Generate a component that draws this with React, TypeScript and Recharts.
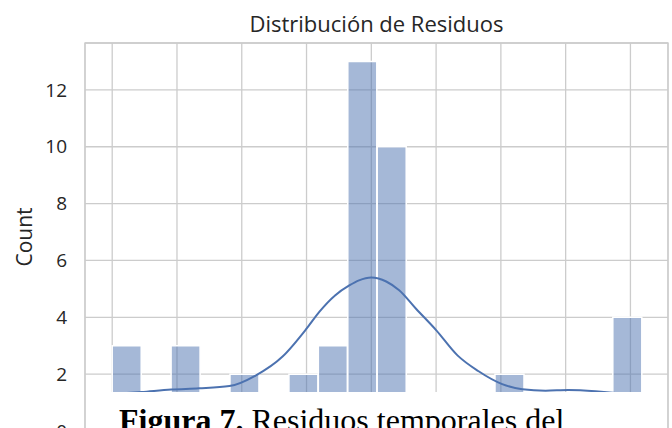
import {
  Bar,
  CartesianGrid,
  ComposedChart,
  Label,
  Line,
  ReferenceArea,
  XAxis,
  YAxis,
} from "recharts";

// histogram bins (centres) and counts
const BIN_CENTERS = [
  -3.773, -3.318, -2.864, -2.409, -1.955, -1.5, -1.045, -0.591, -0.136,
  0.318, 0.773, 1.227, 1.682, 2.136, 2.591, 3.045, 3.5, 3.955,
];
const COUNTS = [3, 0, 3, 0, 2, 0, 2, 3, 13, 10, 0, 0, 0, 2, 0, 0, 0, 4];

// kde curve
const KDE_X = [
  -4.0, -3.55, -3.09, -2.66, -2.19, -1.78, -1.37, -1.0, -0.8, -0.56, -0.34,
  -0.19, 0.0, 0.23, 0.43, 0.69, 1.0, 1.33, 1.65, 2.02, 2.33, 2.69, 3.04, 3.46,
  3.81, 4.18,
];
const KDE_Y = [
  1.3, 1.37, 1.46, 1.5, 1.58, 1.96, 2.62, 3.6, 4.2, 4.77, 5.12, 5.3, 5.4, 5.26,
  4.95, 4.3, 3.55, 2.66, 2.11, 1.65, 1.47, 1.42, 1.44, 1.4, 1.33, 1.22,
];

const X_TICKS = [-4, -3, -2, -1, 0, 1, 2, 3, 4];
const Y_TICKS = [0, 2, 4, 6, 8, 10, 12];
const X_DOMAIN = [-4.42, 4.58];
const Y_DOMAIN = [0, 13.65];

const bins = BIN_CENTERS.map((x, i) => ({ x, count: COUNTS[i] }));
const kde = KDE_X.map((x, i) => ({ x, density: KDE_Y[i] }));

const BLUE = "#4c72b0";
const GRID = "#cccccc";
const TEXT = "#262626";

// x tick labels sit below the caption box, so they are not drawn
const NoTick = () => <g />;

export default function App() {
  return (
    <div
      style={{
        position: "fixed",
        left: 0,
        top: 0,
        width: 672,
        height: 428,
        overflow: "hidden",
        background: "#ffffff",
        fontFamily: "'Open Sans', sans-serif",
      }}
    >
      <div
        style={{
          position: "absolute",
          left: 85,
          width: 583,
          top: 12,
          textAlign: "center",
          fontSize: 22,
          lineHeight: "22px",
          color: TEXT,
        }}
      >
        Distribución de Residuos
      </div>
      <div style={{ position: "absolute", left: 0, top: 0 }}>
        <ComposedChart
          width={672}
          height={480}
          data={bins}
          margin={{ top: 43, right: 4, bottom: 19, left: 0 }}
          barCategoryGap={0}
          barGap={0}
        >
          <CartesianGrid stroke={GRID} strokeWidth={1.3} />
          <ReferenceArea
            x1={X_DOMAIN[0]}
            x2={X_DOMAIN[1]}
            y1={Y_DOMAIN[0]}
            y2={Y_DOMAIN[1]}
            fill="none"
            stroke={GRID}
            strokeWidth={1.3}
            fillOpacity={0}
          />
          <XAxis
            dataKey="x"
            type="number"
            domain={X_DOMAIN}
            ticks={X_TICKS}
            allowDataOverflow
            height={30}
            axisLine={false}
            tickLine={false}
            tick={NoTick}
          />
          <XAxis
            xAxisId="kde"
            dataKey="x"
            type="number"
            domain={X_DOMAIN}
            allowDataOverflow
            hide
          />
          <YAxis
            type="number"
            domain={Y_DOMAIN}
            ticks={Y_TICKS}
            width={85}
            axisLine={false}
            tickLine={false}
            tickSize={0}
            tickMargin={18}
            tick={{ fill: TEXT, fontSize: 19 }}
          >
            <Label
              value="Count"
              angle={-90}
              position="insideLeft"
              offset={25}
              style={{ textAnchor: "middle", fill: TEXT, fontSize: 21 }}
            />
          </YAxis>
          <Bar
            dataKey="count"
            fill={BLUE}
            fillOpacity={0.5}
            stroke="#ffffff"
            strokeWidth={1.5}
            isAnimationActive={false}
          />
          <Line
            xAxisId="kde"
            data={kde}
            dataKey="density"
            type="monotone"
            stroke={BLUE}
            strokeWidth={2}
            dot={false}
            isAnimationActive={false}
          />
        </ComposedChart>
      </div>
      <div
        style={{
          position: "absolute",
          left: 88,
          top: 392,
          width: 576,
          height: 60,
          background: "#ffffff",
        }}
      >
        <div
          style={{
            position: "absolute",
            left: 31,
            top: 12,
            whiteSpace: "nowrap",
            fontFamily: "'Liberation Serif', 'Times New Roman', serif",
            fontSize: 32,
            lineHeight: "32px",
            color: "#000000",
          }}
        >
          <b>Figura 7.</b> Residuos temporales del
        </div>
      </div>
    </div>
  );
}
